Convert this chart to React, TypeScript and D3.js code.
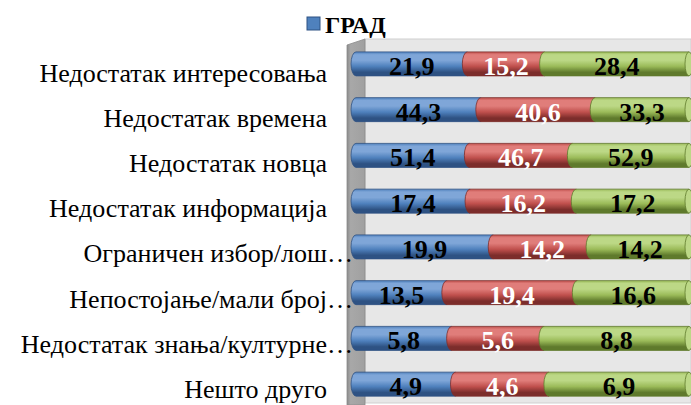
import React, {useRef, useEffect} from "react";
import * as d3 from "d3";

const categories = [
  "Недостатак интересовања",
  "Недостатак времена",
  "Недостатак новца",
  "Недостатак информација",
  "Ограничен избор/лош…",
  "Непостојање/мали број…",
  "Недостатак знања/културне…",
  "Нешто друго",
];
const seriesNames = ["ГРАД", "Серија 2", "Серија 3"];
const grad = [21.9, 44.3, 51.4, 17.4, 19.9, 13.5, 5.8, 4.9];
const series2 = [15.2, 40.6, 46.7, 16.2, 14.2, 19.4, 5.6, 4.6];
const series3 = [28.4, 33.3, 52.9, 17.2, 14.2, 16.6, 8.8, 6.9];
const legendItems = ["ГРАД"];

const palette = [
  {light: "#7fa6d8", base: "#4f81bd", dark: "#2e5283", text: "#000"},
  {light: "#e07d7a", base: "#c0504d", dark: "#7c2d2b", text: "#fff"},
  {light: "#bcd886", base: "#9bbb59", dark: "#5f7a2c", text: "#000"},
];

const W = 691;
const H = 405;
const FONT = "Liberation Serif, DejaVu Serif, serif";

export default function App() {
  const svgRef = useRef<SVGSVGElement>(null);

  useEffect(() => {
    if (!svgRef.current) return;
    const svg = d3.select(svgRef.current);
    svg.selectAll("*").remove();

    const rows = categories.map((c, i) => ({
      cat: c,
      [seriesNames[0]]: grad[i],
      [seriesNames[1]]: series2[i],
      [seriesNames[2]]: series3[i],
    }));
    const stacked = d3.stack().keys(seriesNames).offset(d3.stackOffsetExpand)(rows);

    const x = d3.scaleLinear().domain([0, 1]).range([356, 689]);
    const y = d3.scaleBand().domain(categories).range([41, 407]).paddingInner(0.5).paddingOuter(0.25);
    const yLab = d3.scaleBand().domain(categories).range([50, 411.6]);
    const rx = 5;
    const bh = 24;

    // gradients
    const defs = svg.append("defs");
    palette.forEach((p, i) => {
      const g = defs.append("linearGradient").attr("id", `cyl${i}`).attr("x1", 0).attr("y1", 0).attr("x2", 0).attr("y2", 1);
      [[0, p.base], [0.12, p.light], [0.35, p.light], [0.6, p.base], [0.85, p.dark], [1, p.dark]].forEach(([o, c]) =>
        g.append("stop").attr("offset", o).attr("stop-color", c));
    });
    const sg = defs.append("linearGradient").attr("id", "side").attr("x1", 0).attr("x2", 1).attr("y1", 0).attr("y2", 0);
    sg.append("stop").attr("offset", 0).attr("stop-color", "#8a8a8a");
    sg.append("stop").attr("offset", 0.2).attr("stop-color", "#a8a8a8");
    sg.append("stop").attr("offset", 1).attr("stop-color", "#a0a0a0");

    // walls
    svg.append("rect").attr("x", 365).attr("y", 39).attr("width", W - 365).attr("height", 364)
      .attr("fill", "#e7e7e7").attr("stroke", "#cfcfcf").attr("stroke-width", 1);
    svg.append("path").attr("d", "M347,45 L365,39 L365,405 L347,405 Z")
      .attr("fill", "url(#side)").attr("stroke", "#8c8c8c").attr("stroke-width", 0.8);

    // legend
    const lg = svg.append("g");
    legendItems.forEach((name, i) => {
      lg.append("rect").attr("x", 307).attr("y", 17).attr("width", 13).attr("height", 13)
        .attr("fill", palette[i].base).attr("stroke", palette[i].dark).attr("stroke-width", 1);
      lg.append("text").attr("x", 325).attr("y", 33).attr("font-family", FONT)
        .attr("font-size", 24).attr("font-weight", "bold").attr("fill", "#000").text(name);
    });

    // category labels
    categories.forEach((c) => {
      const cy = yLab(c)! + yLab.bandwidth() / 2;
      const trunc = c.endsWith("…");
      svg.append("text").attr("y", cy + 9).attr("font-family", FONT).attr("font-size", 26).attr("fill", "#000")
        .attr("x", 327).attr("text-anchor", "end").text(trunc ? c.slice(0, -1) : c);
      if (trunc) {
        svg.append("text").attr("x", 327).attr("y", cy + 9).attr("font-family", FONT)
          .attr("font-size", 26).attr("fill", "#000").text("…");
      }
    });

    // bars
    const segPath = (xs: number, xe: number, top: number) =>
      `M${xs},${top} L${xe},${top} L${xe},${top + bh} L${xs},${top + bh} A${rx},${bh / 2} 0 0 1 ${xs},${top} Z`;

    categories.forEach((c, ri) => {
      const top = y(c)! + y.bandwidth() / 2 - bh / 2;
      stacked.forEach((s, si) => {
        const d = s[ri];
        const xs = x(d[0]);
        const xe = x(d[1]);
        svg.append("path").attr("d", segPath(xs, xe, top))
          .attr("fill", `url(#cyl${si})`).attr("stroke", palette[si].dark).attr("stroke-width", 0.8);
        if (si === stacked.length - 1) {
          svg.append("ellipse").attr("cx", xe).attr("cy", top + bh / 2).attr("rx", rx - 1).attr("ry", bh / 2)
            .attr("fill", palette[si].light).attr("stroke", palette[si].dark).attr("stroke-width", 0.8);
        }
      });
      stacked.forEach((s, si) => {
        const d = s[ri];
        const val = [grad, series2, series3][si][ri];
        svg.append("text").attr("x", (x(d[0]) + x(d[1])) / 2).attr("y", top + bh / 2 + 11)
          .attr("text-anchor", "middle").attr("font-family", FONT).attr("font-size", 26)
          .attr("font-weight", "bold").attr("fill", palette[si].text)
          .text(val.toFixed(1).replace(".", ","));
      });
    });
  }, []);

  return (
    <svg ref={svgRef} width={W} height={H} style={{position: "absolute", left: 0, top: 0, background: "#fff"}} />
  );
}
